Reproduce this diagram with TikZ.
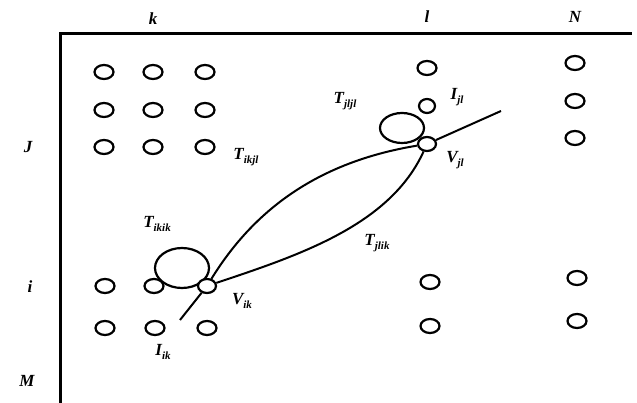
\documentclass[tikz,border=0pt]{standalone}
\usepackage{fontspec}
\setmainfont{Liberation Serif}
\usetikzlibrary{shapes.geometric}
\newcommand{\lbl}[2]{\textit{#1}\raisebox{-0.25em}{\fontsize{11}{12}\selectfont\textit{#2}}}
\tikzset{
  pt/.style={ellipse, draw, line width=2.2pt, minimum width=19pt, minimum height=14pt, inner sep=0pt},
  loopA/.style={ellipse, draw, line width=2.2pt, inner sep=0pt},
  lab/.style={font=\fontsize{17}{19}\selectfont\bfseries\itshape, inner sep=0pt},
  wire/.style={line width=2pt},
  frame/.style={line width=3pt}
}
\begin{document}
\begin{tikzpicture}[x=1pt,y=-1pt]
\useasboundingbox (0,0) rectangle (637,403);
% frame
\coordinate (fbl) at (60,403);
\coordinate (ftl) at (60,34);
\coordinate (ftr) at (632,34);
\draw[frame] (fbl) -- (ftl) -- (ftr);
% axis labels
\node[lab] (k) at (153,19) {k};
\node[lab] (l) at (427,17) {l};
\node[lab] (N) at (575,17) {N};
\node[lab] (J) at (28,147) {J};
\node[lab] (i) at (30,287) {i};
\node[lab] (M) at (27,381) {M};
% k group upper
\node[pt] (a11) at (104,72) {};
\node[pt] (a12) at (153,72) {};
\node[pt] (a13) at (205,72) {};
\node[pt] (a21) at (104,110) {};
\node[pt] (a22) at (153,110) {};
\node[pt] (a23) at (205,110) {};
\node[pt] (a31) at (104,147) {};
\node[pt] (a32) at (153,147) {};
\node[pt] (a33) at (205,147) {};
% l column upper
\node[pt] (l1) at (427,68) {};
\node[pt, minimum width=16pt, minimum height=14pt] (Ijl) at (427,106) {};
% N column
\node[pt] (n1) at (575,63) {};
\node[pt] (n2) at (575,101) {};
\node[pt] (n3) at (575,138) {};
\node[pt] (n4) at (577,278) {};
\node[pt] (n5) at (577,321) {};
% lower k group
\node[pt] (b11) at (105,286) {};
\node[pt] (b12) at (154,286) {};
\node[pt] (b21) at (105,328) {};
\node[pt] (b22) at (155,328) {};
\node[pt] (b23) at (207,328) {};
% l column lower
\node[pt] (l4) at (430,282) {};
\node[pt] (l5) at (430,326) {};
% loops
\node[loopA, minimum width=54pt, minimum height=40pt] (Likik) at (182,268) {};
\node[loopA, minimum width=44pt, minimum height=30pt] (Ljljl) at (402,128) {};
% vertices
\node[pt, fill=white, minimum width=18pt] (Vik) at (207,286) {};
\node[pt, fill=white, minimum width=18pt] (Vjl) at (427,144) {};
% connectors
\coordinate (tailA) at (180,320);
\coordinate (tailB) at (501,111);
\draw[wire] (Vik) .. controls (260,200) and (330,160) .. (Vjl);
\draw[wire] (Vik) .. controls (300,255) and (390,225) .. (Vjl);
\draw[wire] (tailA) -- (Vik);
\draw[wire] (Vjl) -- (tailB);
% labels
\node[lab] (Tikjl) at (246,157) {\lbl{T}{ikjl}};
\node[lab] (Tjljl) at (345,101) {\lbl{T}{jljl}};
\node[lab] (IjlL) at (457,97) {\lbl{I}{jl}};
\node[lab] (VjlL) at (455,160) {\lbl{V}{jl}};
\node[lab] (Tikik) at (157,224) {\lbl{T}{ikik}};
\node[lab] (VikL) at (242,301) {\lbl{V}{ik}};
\node[lab] (IikL) at (163,352) {\lbl{I}{ik}};
\node[lab] (Tjlik) at (377,243) {\lbl{T}{jlik}};
\end{tikzpicture}
\end{document}
